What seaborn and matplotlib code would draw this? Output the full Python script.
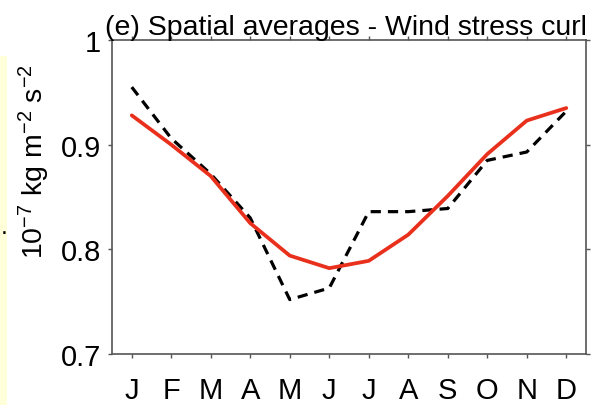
import numpy as np
import pandas as pd
import matplotlib
matplotlib.use("Agg")
import matplotlib.pyplot as plt
import seaborn as sns
from matplotlib.patches import Rectangle

months = ["J", "F", "M", "A", "M", "J", "J", "A", "S", "O", "N", "D"]
month_idx = list(range(1, 13))
model_vals = [0.928, 0.900, 0.870, 0.825, 0.794, 0.782, 0.789, 0.814, 0.851, 0.891, 0.923, 0.935]
obs_vals = [0.955, 0.906, 0.872, 0.830, 0.752, 0.763, 0.836, 0.836, 0.839, 0.885, 0.893, 0.932]
yticks = [0.7, 0.8, 0.9, 1.0]
ytick_labels = ["0.7", "0.8", "0.9", "1"]
title = "(e) Spatial averages - Wind stress curl"
ylabel = r"10$^{-7}$ kg m$^{-2}$ s$^{-2}$"

sns.set_theme(style="ticks")
plt.rcParams["font.family"] = ["Liberation Sans", "DejaVu Sans"]
plt.rcParams["mathtext.fontset"] = "custom"
plt.rcParams["mathtext.rm"] = "Liberation Sans"
plt.rcParams["mathtext.it"] = "Liberation Sans:italic"
plt.rcParams["mathtext.bf"] = "Liberation Sans:bold"

df = pd.DataFrame({
    "month": month_idx * 2,
    "value": obs_vals + model_vals,
    "series": ["obs"] * 12 + ["model"] * 12,
})

fig = plt.figure(figsize=(5.92, 4.06), dpi=100)
ax = fig.add_axes([112 / 592, 1 - 355 / 406, (586 - 112) / 592, (355 - 41) / 406])

# neighbouring panel remnant strip
fig.patches.append(Rectangle((0, 0), 7 / 592, 1 - 57 / 406, transform=fig.transFigure,
                             facecolor="#ffffd9", edgecolor="none", zorder=0))
fig.text(0.5 / 592, 1 - 234 / 406, ".", fontsize=18, color="black", ha="left", va="baseline")

sns.lineplot(data=df[df.series == "obs"], x="month", y="value", ax=ax,
             color="black", linewidth=2.3, linestyle=(0, (3.2, 2.2)), legend=False)
sns.lineplot(data=df[df.series == "model"], x="month", y="value", ax=ax,
             color="#e8301c", linewidth=2.7, legend=False)

ax.set_xlim(0.5, 12.5)
ax.set_ylim(0.7, 1.0)
ax.set_xticks(month_idx)
ax.set_xticklabels(months)
ax.set_yticks(yticks)
ax.set_yticklabels(ytick_labels)
ax.set_xlabel("")
ax.set_ylabel("")

for s in ax.spines.values():
    s.set_visible(True)
    s.set_color("#555555")
    s.set_linewidth(1.2)

ax.tick_params(axis="both", which="both", direction="out", length=3, width=1,
               color="#555555", top=True, right=True, labelsize=21, labelcolor="black")
ax.tick_params(axis="x", pad=13)
ax.tick_params(axis="y", pad=5)

fig.text(105 / 592, 1 - 35 / 406, title, fontsize=20.5, ha="left", va="baseline", color="black")
fig.text(34 / 592, 1 - 162 / 406, ylabel, fontsize=20.5, rotation=90, ha="center", va="center",
         color="black")

fig.savefig("out.png", dpi=100)
